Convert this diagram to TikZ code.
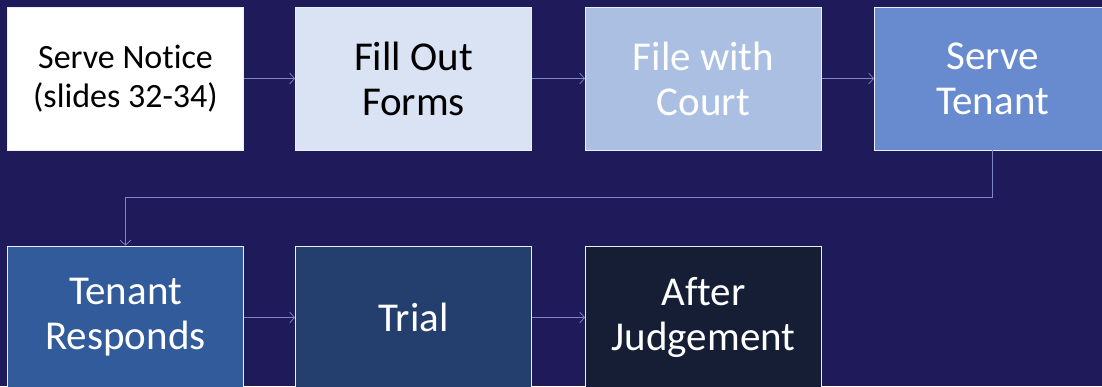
\documentclass[tikz,border=0pt]{standalone}
\usepackage{fontspec}
\setmainfont[Ligatures=NoCommon]{Carlito}
\usepackage{tikz}
\usetikzlibrary{arrows.meta}
\definecolor{bgnavy}{RGB}{31,27,91}
\definecolor{cA}{RGB}{255,255,255}
\definecolor{cB}{RGB}{218,227,243}
\definecolor{cC}{RGB}{171,191,227}
\definecolor{cD}{RGB}{104,139,207}
\definecolor{cE}{RGB}{50,91,155}
\definecolor{cF}{RGB}{36,63,109}
\definecolor{cG}{RGB}{21,30,52}
\definecolor{linec}{RGB}{125,135,200}
\tikzstyle{flow}=[x=1pt, y=-1pt]
\tikzstyle{box}=[rectangle, draw=white!85!linec, line width=0.9pt, minimum width=236pt, minimum height=143pt, align=center, inner sep=2pt]
\tikzstyle{big}=[font=\fontsize{41}{45}\selectfont]
\tikzstyle{small}=[font=\fontsize{34}{39}\selectfont]
\tikzstyle{edge}=[draw=linec, line width=0.7pt, -{Straight Barb[length=5pt, width=11pt, line width=0.7pt]}]

\begin{document}
\begin{tikzpicture}[flow]
	\useasboundingbox (0,0) rectangle (1102,386);
	\clip (0,0) rectangle (1102,386);
	\fill[bgnavy] (0,0) rectangle (1102,386);
	\draw (125.5,78.5) node[box, small, fill=cA, text=black] (b1) {Serve Notice\\(slides 32-34)};
	\draw (413.5,78.5) node[box, big, fill=cB, text=black] (b2) {Fill Out\\Forms};
	\draw (703.5,78.5) node[box, big, fill=cC, text=white] (b3) {File with\\Court};
	\draw (992.5,78.5) node[box, big, fill=cD, text=white] (b4) {Serve\\Tenant};
	\draw (125.5,317.5) node[box, big, fill=cE, text=white] (b5) {Tenant\\Responds};
	\draw (413.5,317.5) node[box, big, fill=cF, text=white] (b6) {Trial};
	\draw (703.5,317.5) node[box, big, fill=cG, text=white] (b7) {After\\Judgement};
	\draw[edge] (b1) -- (b2);
	\draw[edge] (b2) -- (b3);
	\draw[edge] (b3) -- (b4);
	\draw[edge] (b4.south) -- ++(0,47) -| (b5.north);
	\draw[edge] (b5) -- (b6);
	\draw[edge] (b6) -- (b7);
\end{tikzpicture}
\end{document}
